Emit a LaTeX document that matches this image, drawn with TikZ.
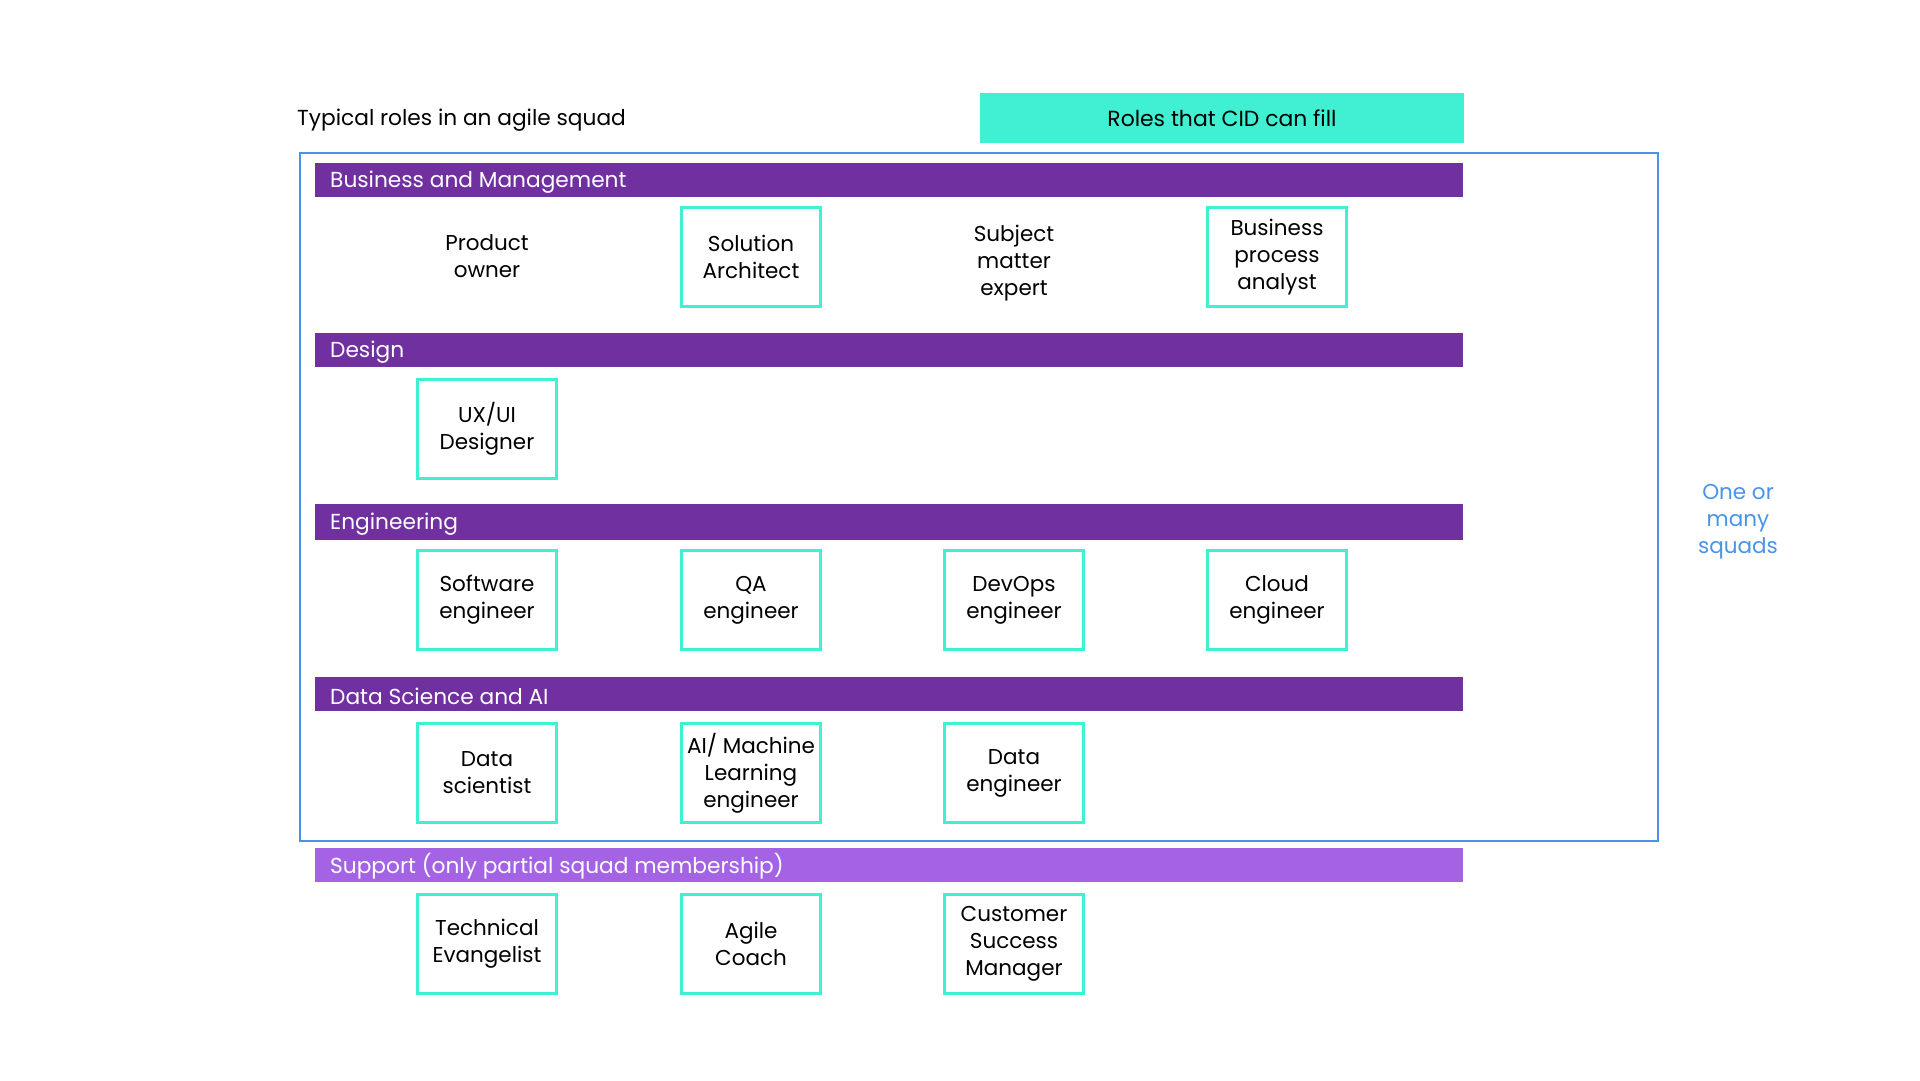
\documentclass[tikz,border=0pt]{standalone}
\usepackage{fontspec}
\setmainfont{Poppins}
\definecolor{barpurple}{HTML}{7030A0}
\definecolor{suppurple}{HTML}{A463E4}
\definecolor{cidcyan}{HTML}{40F0D2}
\definecolor{squadblue}{HTML}{4A94E8}
\tikzset{
  role/.style={draw=cidcyan, line width=2.4pt, minimum width=139pt, minimum height=99pt,
    align=center, inner sep=0pt, font=\fontsize{21.5}{27}\selectfont, text=black},
  plainrole/.style={minimum width=139pt, minimum height=99pt, align=center, inner sep=0pt,
    font=\fontsize{21.5}{27}\selectfont, text=black},
  bar/.style={fill=barpurple, draw=none},
  bartext/.style={anchor=west, inner sep=0pt, text=white, font=\fontsize{21.7}{26}\selectfont},
}
\begin{document}
\begin{tikzpicture}[x=1pt,y=-1pt]
\useasboundingbox (0,0) rectangle (1920,1080);
\fill[white] (0,0) rectangle (1920,1080);

% headers
\node[anchor=west, inner sep=0pt, font=\fontsize{21.7}{26}\selectfont] (typ) at (297,120) {Typical roles in an agile squad};
\node[fill=cidcyan, minimum width=484pt, minimum height=50pt, inner sep=0pt,
  font=\fontsize{21.9}{26}\selectfont] (cid) at (1222,118) {Roles that CID can fill};

% squad frame
\node[draw=squadblue, line width=2.6pt, minimum width=1358pt, minimum height=688pt, inner sep=0pt] (squad) at (979,497) {};
\node[text=squadblue, align=center, font=\fontsize{21.5}{27}\selectfont] (many) at (1738,522) {One or\\many\\squads};

% bars
\fill[bar] (315,163) rectangle (1463,197);
\node[bartext] (bm) at (330,182) {Business and Management};
\fill[bar] (315,333) rectangle (1463,367);
\node[bartext] (des) at (330,352) {Design};
\fill[bar] (315,504) rectangle (1463,540);
\node[bartext] (eng) at (330,524) {Engineering};
\fill[bar] (315,677) rectangle (1463,711);
\node[bartext] (dsai) at (330,696) {Data Science and AI};
\fill[suppurple] (315,848) rectangle (1463,882);
\node[bartext] (sup) at (330,866) {Support (only partial squad membership)};

% row 1
\node[plainrole] (po) at (487,256) {Product\\owner};
\node[role] (sa) at (751,257) {Solution\\Architect};
\node[plainrole] (sme) at (1014,263) {Subject\\matter\\expert};
\node[role] (bpa) at (1277,257) {Business\\process\\analyst};
% row 2
\node[role] (ux) at (487,429) {UX/UI\\Designer};
% row 3
\node[role] (swe) at (487,600) {Software\\engineer};
\node[role] (qa) at (751,600) {QA\\engineer};
\node[role] (devops) at (1014,600) {DevOps\\engineer};
\node[role] (cloud) at (1277,600) {Cloud\\engineer};
% row 4
\node[role] (dsci) at (487,773) {Data\\scientist};
\node[role] (ml) at (751,773) {AI/ Machine\\Learning\\engineer};
\node[role] (de) at (1014,773) {Data\\engineer};
% row 5
\node[role] (te) at (487,944) {Technical\\Evangelist};
\node[role] (ac) at (751,944) {Agile\\Coach};
\node[role] (csm) at (1014,944) {Customer\\Success\\Manager};
\end{tikzpicture}
\end{document}
